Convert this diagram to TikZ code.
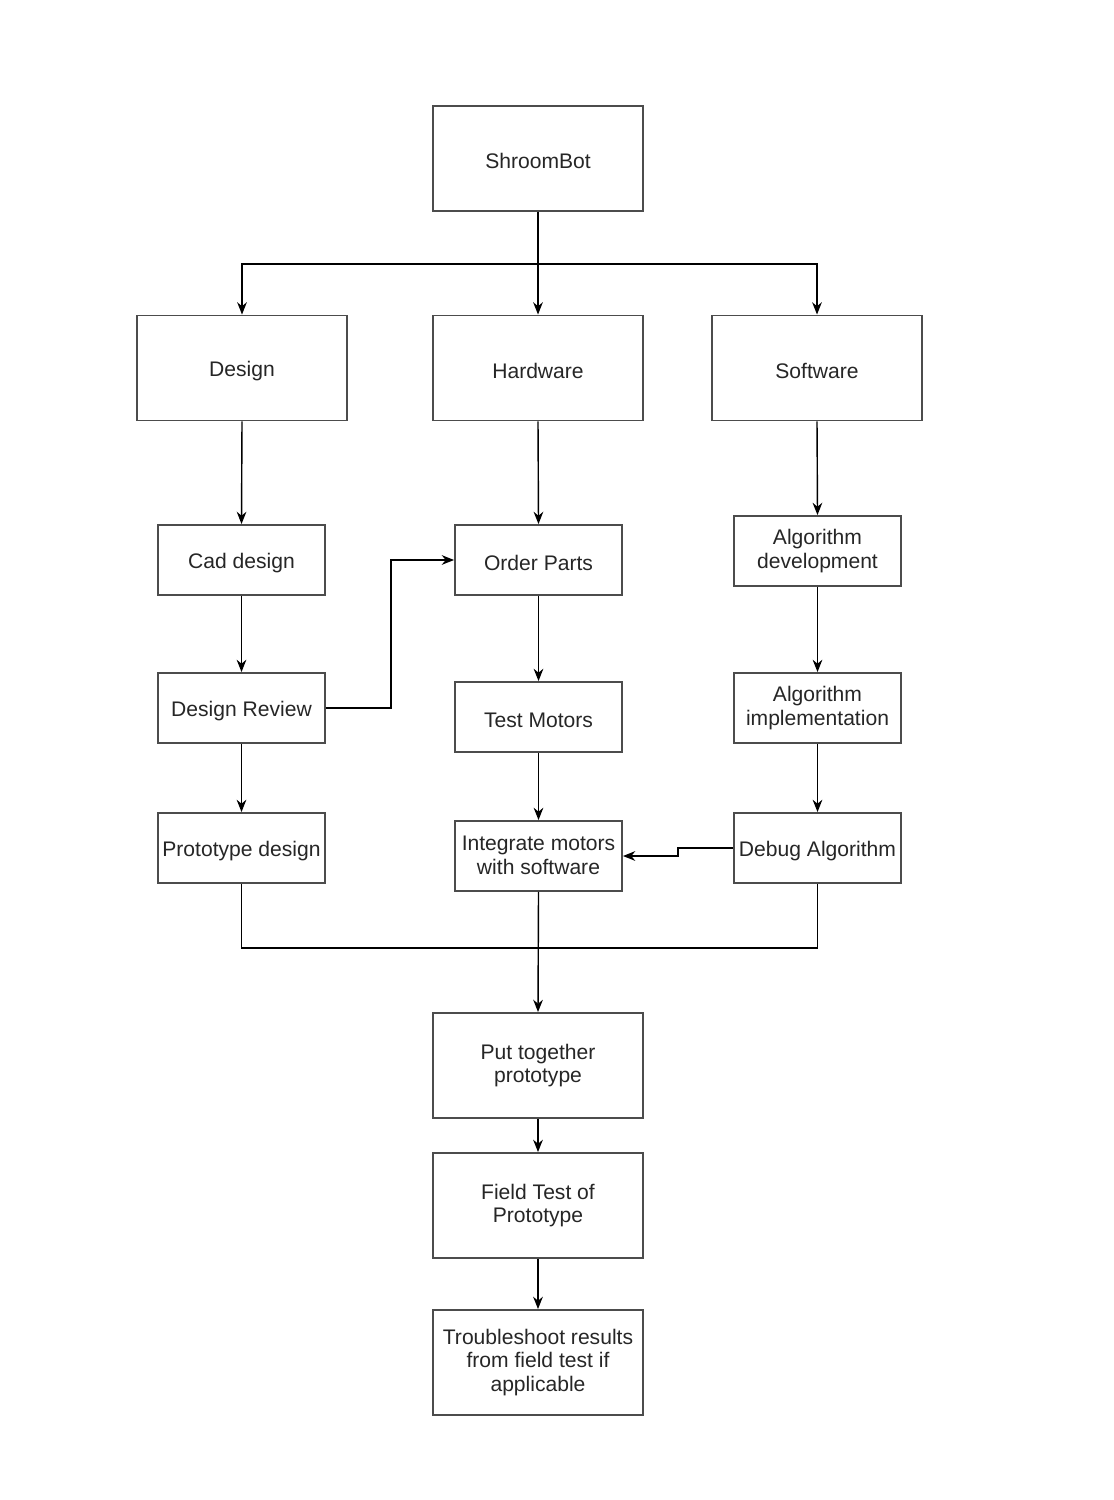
\documentclass[tikz,border=0pt]{standalone}
\usepackage{fontspec}
\setmainfont{Liberation Sans}
\usetikzlibrary{arrows.meta}
\newcommand{\boxstrut}{\rule[-1pt]{0pt}{13.4pt}}
\begin{document}
\begin{tikzpicture}[x=0.02cm,y=-0.02cm,every node/.style={font=\fontsize{12}{13.6}\selectfont,text=black!85,execute at begin node=\boxstrut,execute at end node=\boxstrut},
  bigbox/.style={draw=black!70,line width=1.1pt,minimum width=4.2cm,minimum height=2.1cm,align=center,inner sep=1pt},
  smallbox/.style={draw=black!70,line width=1.1pt,minimum width=3.34cm,minimum height=1.4cm,align=center,inner sep=1pt},
  link/.style={-{Stealth[length=7pt,width=5.5pt]},line width=0.8pt},
  wire/.style={line width=0.8pt}]
\useasboundingbox (0,0) rectangle (1114,1500);
% top level
\node[bigbox] (shroom) at (538,158.5) {ShroomBot};
\node[bigbox] (design) at (242,368) {Design};
\node[bigbox] (hw) at (538,368) {Hardware};
\node[bigbox] (sw) at (817,368) {Software};
% three branches
\node[smallbox] (cad) at (241.5,560) {Cad design};
\node[smallbox] (review) at (241.5,708) {Design Review};
\node[smallbox] (proto) at (241.5,848) {Prototype design};
\node[smallbox] (order) at (538.5,560) {Order Parts};
\node[smallbox] (motors) at (538.5,717) {Test Motors};
\node[smallbox] (integ) at (538.5,856) {Integrate motors\\with software};
\node[smallbox] (algdev) at (817.5,551) {Algorithm\\development};
\node[smallbox] (algimp) at (817.5,708) {Algorithm\\implementation};
\node[smallbox] (debug) at (817.5,848) {Debug Algorithm};
% final steps
\node[bigbox] (assemble) at (538,1065.5) {Put together\\prototype};
\node[bigbox] (field) at (538,1205.5) {Field Test of\\Prototype};
\node[bigbox] (trouble) at (538,1362.5) {Troubleshoot results\\from field test if\\applicable};
\coordinate (split) at (538,264);
\coordinate (merge) at (538,948);
\draw[link] (shroom.south) -- (hw.north);
\foreach \t in {design,sw} {\draw[link] (split) -| (\t.north);}
\foreach \a/\b in {design/cad,cad/review,review/proto,hw/order,order/motors,motors/integ,sw/algdev,algdev/algimp,algimp/debug,integ/assemble,assemble/field,field/trouble} {\draw[link] (\a.south) -- (\b.north);}
\draw[link] (review.east) -- ++(65,0) |- (order.west);
\draw[link] (debug.west) -- ++(-55,0) |- (integ.east);
\draw[wire] (proto.south) |- (merge);
\draw[wire] (debug.south) |- (merge);
\end{tikzpicture}
\end{document}
